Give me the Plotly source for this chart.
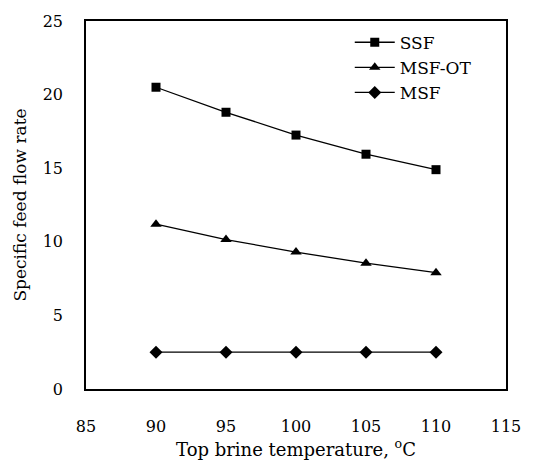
import plotly.graph_objects as go

temperature = [90, 95, 100, 105, 110]
ssf = [20.5, 18.8, 17.25, 15.95, 14.9]
msf_ot = [11.2, 10.15, 9.3, 8.55, 7.9]
msf = [2.5, 2.5, 2.5, 2.5, 2.5]

serif = "DejaVu Serif"

fig = go.Figure()
series = [
    ("SSF", ssf, "square", 9),
    ("MSF-OT", msf_ot, "triangle-up", 10),
    ("MSF", msf, "diamond", 10),
]
for name, vals, sym, size in series:
    fig.add_trace(go.Scatter(
        x=temperature, y=vals, name=name, mode="lines+markers",
        line=dict(color="black", width=1.3),
        marker=dict(symbol=sym, size=size, color="black"),
    ))

fig.update_layout(
    width=535, height=474,
    margin=dict(l=86, r=29, t=12, b=85),
    paper_bgcolor="white", plot_bgcolor="white",
    font=dict(family=serif, size=16, color="black"),
    showlegend=True,
    legend=dict(x=0.628, y=0.99, xanchor="left", yanchor="top",
                bgcolor="rgba(0,0,0,0)", font=dict(family=serif, size=17),
                tracegroupgap=0, itemwidth=40),
    xaxis=dict(range=[85, 115], tickvals=[85, 90, 95, 100, 105, 110, 115],
               tickfont=dict(family=serif, size=16),
               showgrid=False, zeroline=False, showline=True, mirror=True,
               linecolor="black", linewidth=1.6, ticks="",
               ticklabelstandoff=22,
               title=dict(text="Top brine temperature, <sup>o</sup>C",
                          font=dict(family=serif, size=18), standoff=6)),
    yaxis=dict(range=[0, 25], tickvals=[0, 5, 10, 15, 20, 25],
               tickfont=dict(family=serif, size=16),
               showgrid=False, zeroline=False, showline=True, mirror=True,
               linecolor="black", linewidth=1.6, ticks="",
               ticklabelstandoff=18,
               title=dict(text="Specific feed flow rate",
                          font=dict(family=serif, size=17), standoff=12)),
)

fig.write_html("out.html")
